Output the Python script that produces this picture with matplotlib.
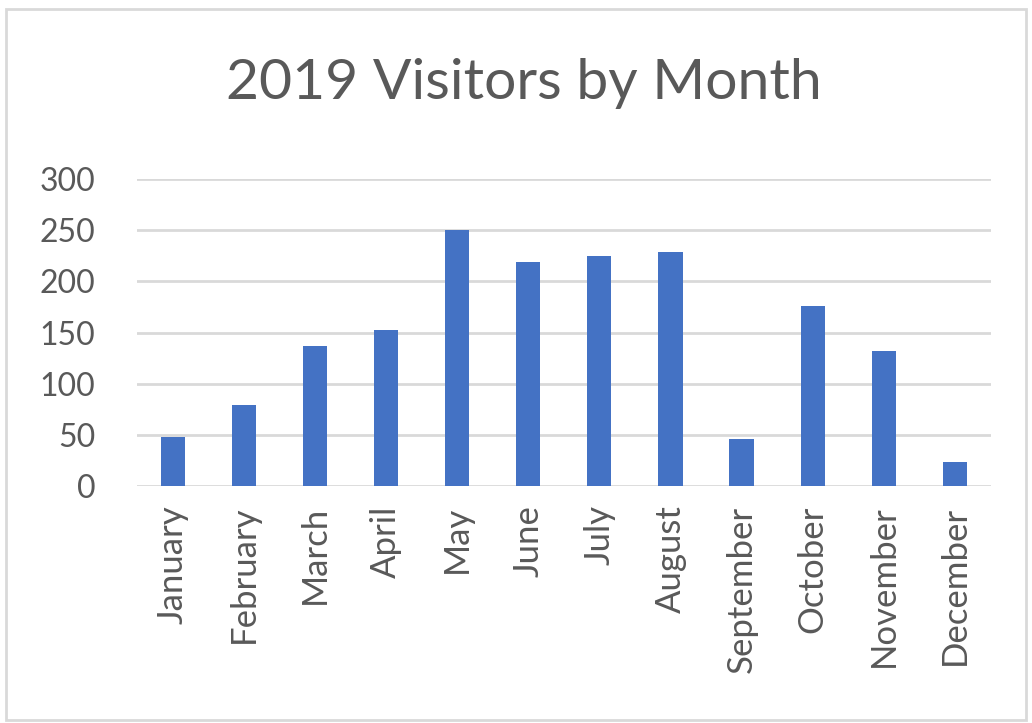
import matplotlib
matplotlib.use('Agg')
from matplotlib import pyplot as plt
from matplotlib.patches import Rectangle

months = ['January', 'February', 'March', 'April', 'May', 'June',
          'July', 'August', 'September', 'October', 'November', 'December']
visitors = [48, 79, 137, 152, 250, 219, 225, 229, 46, 176, 132, 23]
y_ticks = [0, 50, 100, 150, 200, 250, 300]

plt.rcParams['font.family'] = ['Lato', 'DejaVu Sans']
text_color = '#595959'

fig = plt.figure(figsize=(10.32, 7.23), dpi=100)
ax = fig.add_axes([0.1328, 0.3278, 0.827, 0.4246])

# bars
x = range(len(months))
ax.bar(x, visitors, width=0.34, color='#4472C4', zorder=3)

# gridlines
for t in y_ticks:
    ax.axhline(t, color='#D9D9D9', linewidth=2, zorder=1)

ax.set_ylim(0, 300)
ax.set_xlim(-0.5, len(months) - 0.5)
ax.set_yticks(y_ticks)
ax.set_yticklabels([str(t) for t in y_ticks], fontsize=23, color=text_color)
ax.set_xticks(list(x))
ax.set_xticklabels(months, rotation=90, fontsize=25, color=text_color)
ax.tick_params(length=0)
ax.tick_params(axis='y', pad=30)
ax.tick_params(axis='x', pad=14)
for s in ax.spines.values():
    s.set_visible(False)

fig.text(0.508, 0.885, '2019 Visitors by Month', ha='center', va='center',
         fontsize=41, color=text_color)

# chart border
fig.patches.append(Rectangle((0.006, 0.004), 0.988, 0.984, transform=fig.transFigure,
                             fill=False, edgecolor='#D9D9D9', linewidth=2))

plt.savefig('out.png', dpi=100)
